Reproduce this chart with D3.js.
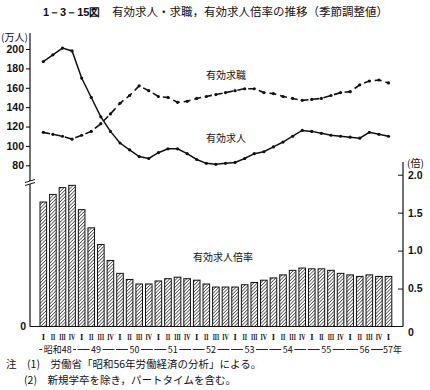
<!DOCTYPE html>
<html>
<head>
<meta charset="utf-8">
<script src="https://cdn.jsdelivr.net/npm/d3@7"></script>
<style>
  body { margin: 0; background: #fff; }
  svg text { font-family: "Noto Sans CJK JP", "Noto Sans", sans-serif; fill: #111; }
  .num { font-family: "Liberation Sans", "DejaVu Sans", sans-serif; font-weight: bold; }
  .roman { font-family: "Liberation Serif", "DejaVu Serif", serif; }
</style>
</head>
<body>
<svg width="430" height="390"></svg>
<script>
const svg = d3.select("svg");

// quarters: 昭和48 I ... 昭和57 I
const yearLabels = ["昭和48", "49", "50", "51", "52", "53", "54", "55", "56", "57年"];
const romans = ["I", "II", "III", "IV"];
const quarters = d3.range(37).map(i => ({ i, year: Math.floor(i / 4), q: romans[i % 4] }));

// 有効求人倍率 (倍)
const ratio = [1.64, 1.74, 1.83, 1.86, 1.54, 1.30, 1.08, 0.87, 0.70, 0.62, 0.56, 0.56, 0.60,
  0.63, 0.65, 0.63, 0.61, 0.56, 0.52, 0.52, 0.52, 0.55, 0.58, 0.61, 0.64, 0.68, 0.74,
  0.77, 0.76, 0.76, 0.74, 0.70, 0.68, 0.66, 0.68, 0.66, 0.66];
// 有効求人 (万人)
const offers = [187, 194, 201, 198, 170, 150, 130, 115, 103, 96, 89, 87, 93,
  97, 97, 92, 86, 82, 81, 82, 83, 87, 92, 94, 99, 104, 110,
  116, 115, 113, 111, 110, 109, 108, 114, 112, 110];
// 有効求職 (万人)
const seekers = [114, 112, 110, 107, 111, 115, 123, 133, 144, 152, 162, 157, 151,
  150, 145, 146, 149, 151, 153, 155, 157, 159, 159, 155, 154, 151, 149,
  147, 148, 149, 152, 155, 156, 163, 167, 168, 165];

const leftTicks = [80, 100, 120, 140, 160, 180, 200];
const rightTicks = [0, 0.5, 1.0, 1.5, 2.0];

const x = d3.scalePoint().domain(quarters.map(d => d.i)).range([43.3, 388.5]);
const yL = d3.scaleLinear().domain([80, 200]).range([165.3, 49]);
const yR = d3.scaleLinear().domain([0, 2]).range([326.5, 174.7]);
const axisX = 30, rightX = 403, baseY = yR(0);
const barW = 6.6;

// hatch pattern
const defs = svg.append("defs");
const pat = defs.append("pattern")
  .attr("id", "hatch")
  .attr("patternUnits", "userSpaceOnUse")
  .attr("width", 2.4).attr("height", 2.4)
  .attr("patternTransform", "rotate(45)");
pat.append("rect").attr("width", 2.4).attr("height", 2.4).attr("fill", "#fff");
pat.append("line").attr("x1", 0).attr("y1", 0).attr("x2", 0).attr("y2", 2.4)
  .attr("stroke", "#111").attr("stroke-width", 1.2);

// title
svg.append("text").attr("x", 43).attr("y", 16).style("font-size", "11.5px")
  .html('<tspan class="num" style="font-size:11px">1－3－15図</tspan>　有効求人・求職，有効求人倍率の推移（季節調整値）');

// left axis
svg.append("line").attr("x1", axisX).attr("x2", axisX).attr("y1", 33).attr("y2", baseY)
  .attr("stroke", "#111").attr("stroke-width", 1.2);
const gL = svg.append("g").attr("transform", `translate(${axisX},0)`)
  .call(d3.axisLeft(yL).tickValues(leftTicks).tickSize(4).tickPadding(2));
gL.select(".domain").remove();
gL.selectAll("text").attr("class", "num").style("font-size", "10.5px");
svg.append("text").attr("x", 1).attr("y", 41).style("font-size", "10px").text("(万人)");

// axis break
svg.append("rect").attr("x", axisX - 4).attr("y", 181).attr("width", 8).attr("height", 3).attr("fill", "#fff");
[181, 184].forEach(yy => svg.append("line")
  .attr("x1", axisX - 5).attr("x2", axisX + 5).attr("y1", yy + 1.5).attr("y2", yy - 1.5)
  .attr("stroke", "#111").attr("stroke-width", 1));
svg.append("text").attr("x", 26).attr("y", baseY + 3).attr("text-anchor", "end")
  .attr("class", "num").style("font-size", "10.5px").text("0");

// right axis
svg.append("line").attr("x1", rightX).attr("x2", rightX).attr("y1", 162).attr("y2", baseY)
  .attr("stroke", "#111").attr("stroke-width", 1.2);
const gR = svg.append("g").attr("transform", `translate(${rightX},0)`)
  .call(d3.axisRight(yR).tickValues(rightTicks).tickSize(0).tickPadding(5)
    .tickFormat(d => d === 0 ? "0" : d3.format(".1f")(d)));
gR.select(".domain").remove();
gR.selectAll("text").attr("class", "num").style("font-size", "10.5px");
gR.selectAll(".tick").filter(d => d > 0).append("line")
  .attr("x1", -5).attr("x2", 0).attr("stroke", "#111");
gR.selectAll(".tick").filter(d => d === 0).select("text").attr("dy", "0.9em");
svg.append("text").attr("x", 407).attr("y", 167).style("font-size", "10px").text("(倍)");

// bars
svg.append("g").selectAll("rect").data(quarters).join("rect")
  .attr("x", d => x(d.i) - barW / 2)
  .attr("y", d => yR(ratio[d.i]))
  .attr("width", barW)
  .attr("height", d => baseY - yR(ratio[d.i]))
  .attr("fill", "url(#hatch)")
  .attr("stroke", "#111").attr("stroke-width", 1);

// baseline
svg.append("line").attr("x1", axisX).attr("x2", rightX).attr("y1", baseY).attr("y2", baseY)
  .attr("stroke", "#111").attr("stroke-width", 1.2);

// lines
const lineL = arr => d3.line().x(d => x(d.i)).y(d => yL(arr[d.i]))(quarters);
svg.append("path").attr("d", lineL(offers)).attr("fill", "none")
  .attr("stroke", "#111").attr("stroke-width", 1.5);
svg.append("path").attr("d", lineL(seekers)).attr("fill", "none")
  .attr("stroke", "#111").attr("stroke-width", 1.6).attr("stroke-dasharray", "7,4");
[offers, seekers].forEach(arr => {
  svg.append("g").selectAll("circle").data(quarters).join("circle")
    .attr("cx", d => x(d.i)).attr("cy", d => yL(arr[d.i])).attr("r", 1.6).attr("fill", "#111");
});

// series labels
svg.append("text").attr("x", 206).attr("y", 79).style("font-size", "10px").text("有効求職");
svg.append("text").attr("x", 206).attr("y", 142).style("font-size", "10px").text("有効求人");
svg.append("text").attr("x", 193).attr("y", 261).style("font-size", "10px").text("有効求人倍率");

// quarter labels (squeezed roman numerals)
const qLen = { "I": null, "II": 4.5, "III": 6.5, "IV": 6.5 };
svg.append("g").selectAll("text").data(quarters).join("text")
  .attr("class", "roman")
  .attr("x", d => x(d.i)).attr("y", 340)
  .attr("text-anchor", "middle")
  .style("font-size", "8.5px").style("font-weight", "bold")
  .each(function (d) {
    if (qLen[d.q]) d3.select(this).attr("textLength", qLen[d.q]).attr("lengthAdjust", "spacingAndGlyphs");
  })
  .text(d => d.q);

// year labels with dashes
const yg = svg.append("g");
yearLabels.forEach((lab, k) => {
  const first = k * 4, last = Math.min(k * 4 + 3, 36);
  const x0 = x(first) - 4, x1 = x(last) + 4;
  const cx = k === 9 ? x(36) + 4 : (x0 + x1) / 2;
  const t = yg.append("text").attr("x", cx).attr("y", 353).attr("text-anchor", "middle")
    .style("font-size", "9px").text(lab);
  const w = t.node().getComputedTextLength();
  const gx0 = k === 9 ? x0 - 3 : x0;
  yg.append("line").attr("x1", gx0).attr("x2", cx - w / 2 - 1.5).attr("y1", 349.5).attr("y2", 349.5)
    .attr("stroke", "#111").attr("stroke-width", 0.9);
  if (k < 9) {
    yg.append("line").attr("x1", cx + w / 2 + 1.5).attr("x2", x1).attr("y1", 349.5).attr("y2", 349.5)
      .attr("stroke", "#111").attr("stroke-width", 0.9);
  }
});

// notes
svg.append("text").attr("x", 6).attr("y", 368).style("font-size", "10.5px")
  .text("注　(1)　労働省「昭和56年労働経済の分析」による。");
svg.append("text").attr("x", 24).attr("y", 384).style("font-size", "10.5px")
  .text("(2)　新規学卒を除き，パートタイムを含む。");
</script>
</body>
</html>
